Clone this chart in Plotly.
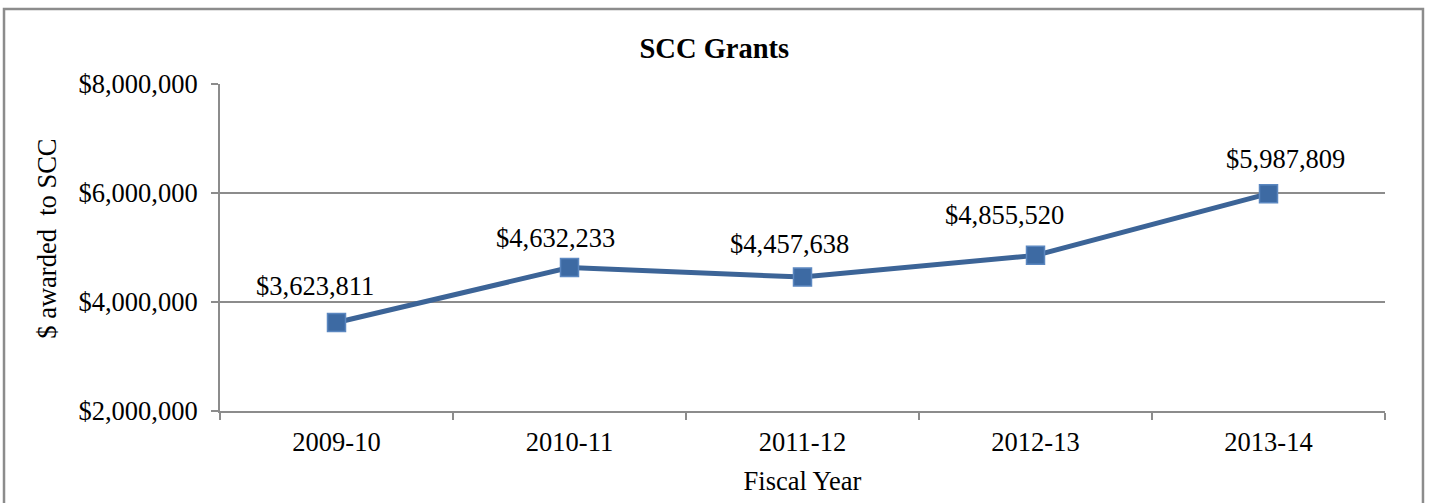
import plotly.graph_objects as go

# Fiscal years and grant totals awarded to SCC
fiscal_years = ["2009-10", "2010-11", "2011-12", "2012-13", "2013-14"]
awarded = [3623811, 4632233, 4457638, 4855520, 5987809]
y_ticks = [2000000, 4000000, 6000000, 8000000]
y_tick_text = [f"${v:,.0f}" for v in y_ticks]

# label nudges (pixels) for the data labels
label_dx = [-22, -14, -13, -31, 17]
label_dy = [37, 30, 33, 40, 35]

grid_col = "#8c8c8c"
line_col = "#3c6497"
font_family = "Liberation Serif, Times New Roman, serif"
fsize = 26.5

fig = go.Figure()
fig.add_trace(go.Scatter(
    x=fiscal_years, y=awarded, mode="lines+markers",
    line=dict(color=line_col, width=5),
    marker=dict(symbol="square", size=18, color="#3d6aa3",
                line=dict(color="#5b87c0", width=1.5)),
    hoverinfo="x+y", showlegend=False,
))

for xv, yv, dx, dy in zip(fiscal_years, awarded, label_dx, label_dy):
    fig.add_annotation(x=xv, y=yv, text=f"${yv:,.0f}", showarrow=False,
                       xshift=dx, yshift=dy,
                       font=dict(family=font_family, size=fsize, color="black"))

# y-axis title placed as a rotated annotation
fig.add_annotation(text="$ awarded  to SCC", textangle=-90, showarrow=False,
                   xref="paper", yref="paper", x=-0.1485, y=0.527,
                   xanchor="center", yanchor="middle",
                   font=dict(family=font_family, size=fsize, color="black"))

# outer chart frame
fig.add_shape(type="rect", xref="paper", yref="paper",
              x0=-0.1854, x1=1.0326, y0=-0.32, y1=1.2294,
              line=dict(color=grid_col, width=2.5), layer="below")

fig.update_layout(
    width=1433, height=503,
    margin=dict(l=220, r=48, t=84, b=92),
    paper_bgcolor="white", plot_bgcolor="white",
    font=dict(family=font_family, size=fsize, color="black"),
    title=dict(text="<b>SCC Grants</b>", x=0.4985, xref="container", xanchor="center",
               y=0.905, yanchor="middle",
               font=dict(family=font_family, size=28.5, color="black")),
)

fig.update_xaxes(
    type="category", range=[-0.5, 4.5], tickson="boundaries",
    ticks="outside", ticklen=7, tickcolor=grid_col, tickwidth=2,
    showline=True, linecolor=grid_col, linewidth=2,
    showgrid=False, zeroline=False,
    tickfont=dict(size=fsize), ticklabelstandoff=6,
    title=dict(text="Fiscal Year", font=dict(size=fsize), standoff=16),
)
fig.update_yaxes(
    range=[2000000, 8000000], tickvals=y_ticks, ticktext=y_tick_text,
    ticks="outside", ticklen=7, tickcolor=grid_col, tickwidth=2,
    showline=True, linecolor=grid_col, linewidth=2,
    showgrid=True, gridcolor=grid_col, gridwidth=2, zeroline=False,
    tickfont=dict(size=fsize), ticklabelstandoff=8,
)

fig.write_html("out.html")
